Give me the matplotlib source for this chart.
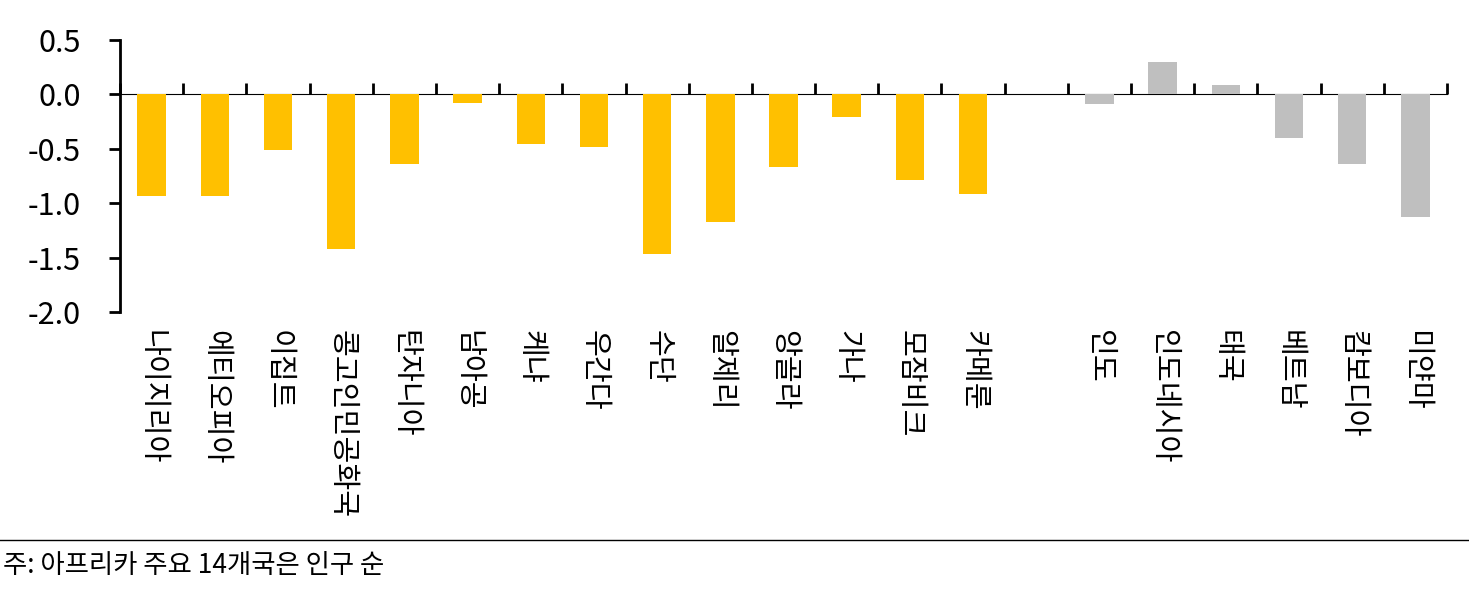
import numpy as np
import matplotlib
matplotlib.use("Agg")
import matplotlib.pyplot as plt
from matplotlib.lines import Line2D

plt.rcParams['font.family'] = ['Noto Sans CJK KR', 'DejaVu Sans']
plt.rcParams['axes.unicode_minus'] = False

# Africa (14 largest by population) then Asia, with an empty slot between
africa = ["나이지리아", "에티오피아", "이집트", "콩고인민공화국", "탄자니아", "남아공", "케냐",
          "우간다", "수단", "알제리", "앙골라", "가나", "모잠비크", "카메룬"]
africa_vals = [-0.93, -0.93, -0.51, -1.42, -0.64, -0.08, -0.46,
               -0.48, -1.47, -1.17, -0.67, -0.21, -0.79, -0.92]
asia = ["인도", "인도네시아", "태국", "베트남", "캄보디아", "미얀마"]
asia_vals = [-0.09, 0.30, 0.09, -0.40, -0.64, -1.13]
yticks = [0.5, 0.0, -0.5, -1.0, -1.5, -2.0]
note = "주: 아프리카 주요 14개국은 인구 순"

yellow = "#FFC000"
grey = "#BFBFBF"

x_af = np.arange(len(africa))
x_as = np.arange(len(asia)) + len(africa) + 1
n_slots = len(africa) + 1 + len(asia)

fig = plt.figure(figsize=(14.69, 5.9), dpi=100)
ax = fig.add_axes([0.0817, 0.4712, 0.9033, 0.461])

ax.bar(x_af, africa_vals, width=0.45, color=yellow)
ax.bar(x_as, asia_vals, width=0.45, color=grey)

ax.set_xlim(-0.5, n_slots - 0.5)
ax.set_ylim(-2.0, 0.5)
ax.set_yticks(yticks)
ax.set_yticklabels(["%.1f" % v for v in yticks], fontsize=22)
ax.tick_params(axis='y', direction='out', length=8, width=2, pad=20)

# category labels sit under the plot area, rotated
ax.set_xticks(list(x_af) + list(x_as))
ax.set_xticklabels(africa + asia, rotation=-90, fontsize=21, va='top', ha='center')
ax.tick_params(axis='x', length=0, pad=13)

for side in ["top", "right", "bottom"]:
    ax.spines[side].set_visible(False)
ax.spines["left"].set_linewidth(2)

# zero line with tick marks between categories
zero = ax.secondary_xaxis(2.0 / 2.5)
zero.set_xticks(np.arange(n_slots + 1) - 0.5)
zero.set_xticklabels([])
zero.tick_params(direction='out', length=8, width=2)
zero.spines["bottom"].set_linewidth(2.5)

fig.add_artist(Line2D([0, 1], [0.0847, 0.0847], color="black", lw=1))
fig.text(0.002, 0.042, note, fontsize=19, va='center', ha='left')

fig.savefig("out.png", dpi=100)
